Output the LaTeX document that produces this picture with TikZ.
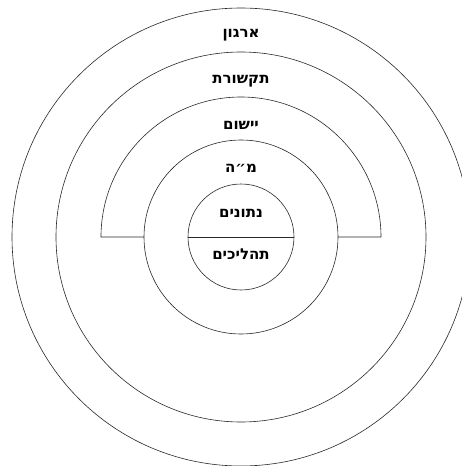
\documentclass[tikz,border=0pt]{standalone}
\usepackage{fontspec}
\usepackage{tikz}
\TeXXeTstate=1
\newfontfamily\hebfont[Script=Hebrew]{DejaVu Sans}
\definecolor{ringline}{RGB}{40,40,40}

\begin{document}
\begin{tikzpicture}[x=1pt, y=1pt,
    ring/.style={circle, draw=ringline, line width=0.6pt, inner sep=0pt, outer sep=0pt},
    lbl/.style={font=\hebfont\bfseries\fontsize{15}{17}\selectfont, inner sep=1pt}]
  \useasboundingbox (-241,-229) rectangle (221,237);
  % rings, outer to inner
  \foreach \r/\nm in {229/org, 185/comm, 97/mh, 53/data} {
    \node[ring, minimum size={2*\r pt}] (\nm) at (0,0) {};
  }
  % half ring of the application layer
  \draw[ringline, line width=0.6pt] (mh.west) -- ++(-43,0)
    arc[start angle=180, end angle=0, radius=140] -- (mh.east);
  \draw[ringline, line width=0.6pt] (data.west) -- (data.east);
  % layer names
  \node[lbl] (lorg)  at (0,202) {\beginR ארגון\endR};
  \node[lbl] (lcomm) at (0,156) {\beginR תקשורת\endR};
  \node[lbl] (lapp)  at (0,112) {\beginR יישום\endR};
  \node[lbl] (lmh)   at (0,69)  {\beginR מ״ה\endR};
  \node[lbl] (ldata) at (0,24)  {\beginR נתונים\endR};
  \node[lbl] (lproc) at (0,-17) {\beginR תהליכים\endR};
\end{tikzpicture}
\end{document}
